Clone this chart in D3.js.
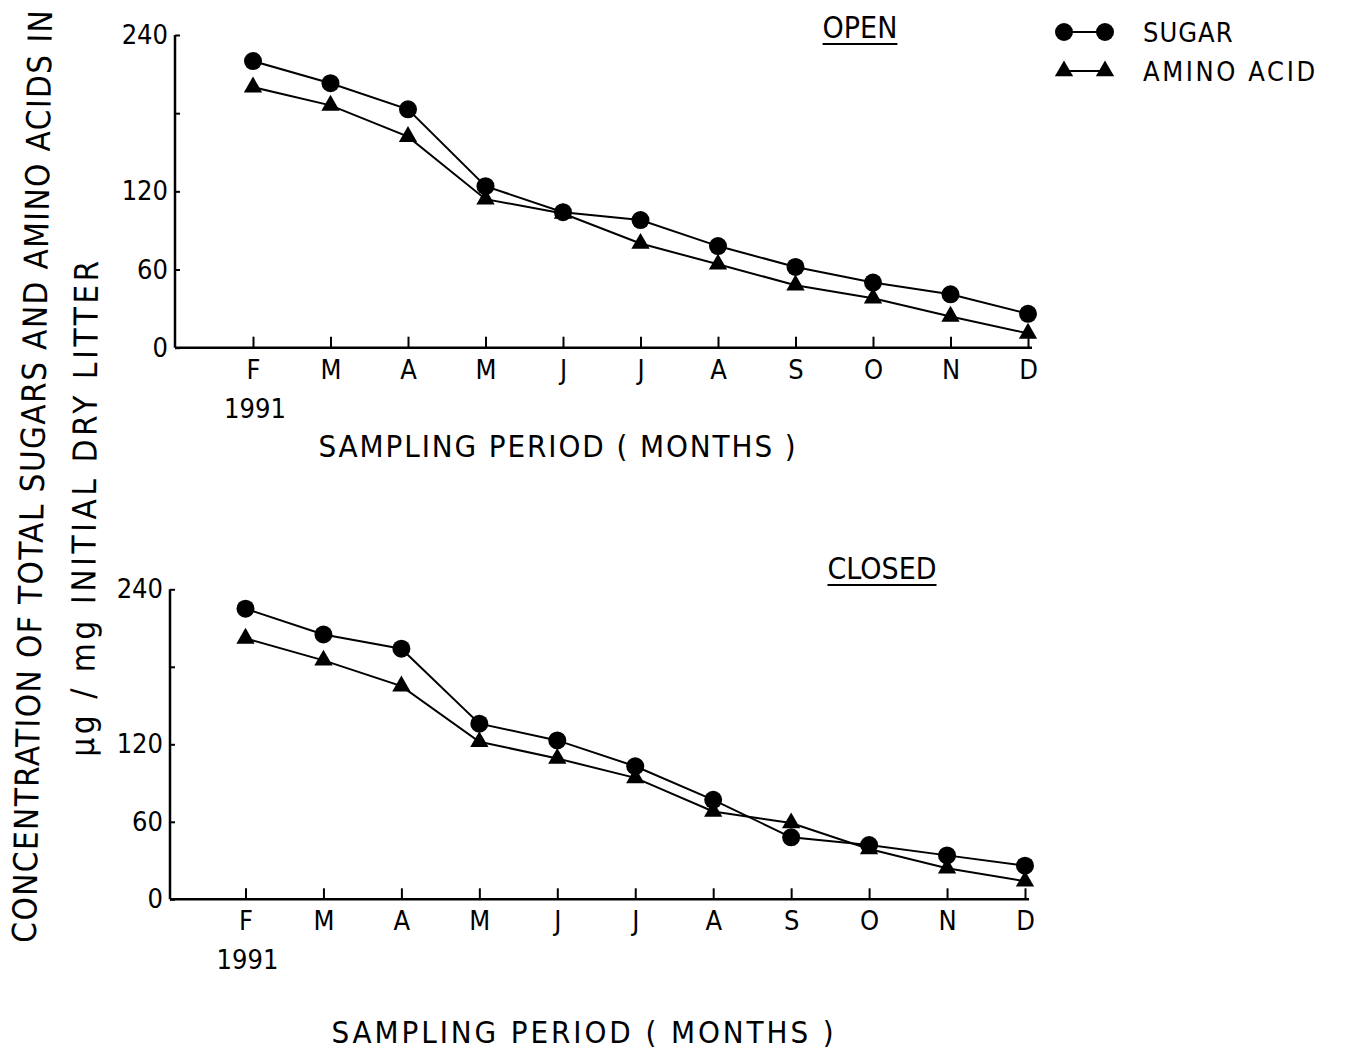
<!DOCTYPE html>
<html>
<head>
<meta charset="utf-8">
<script src="https://cdn.jsdelivr.net/npm/d3@7"></script>
<style>
  body { margin: 0; background: #fff; }
  svg { display: block; }
  text { font-family: "DejaVu Sans Condensed", "Liberation Sans Narrow", "DejaVu Sans", sans-serif; fill: #000; }
  .axis text { font-size: 27px; }
  .axis line { stroke: #000; stroke-width: 2; }
</style>
</head>
<body>
<svg width="1346" height="1056"></svg>
<script>
const months = ["F", "M", "A", "M", "J", "J", "A", "S", "O", "N", "D"];
const yTicks = [0, 60, 120, 180, 240];
const yLabels = [0, 60, 120, 240];

const openSugar   = [220, 203, 183, 124, 104, 98, 78, 62, 50, 41, 26];
const openAmino   = [200, 186, 162, 114, 103, 80, 64, 48, 38, 24, 11];
const closedSugar = [225, 205, 194, 136, 123, 103, 77, 48, 42, 34, 26];
const closedAmino = [202, 185, 165, 122, 109, 94, 68, 59, 39, 24, 14];

const svg = d3.select("svg");

const circle = d3.symbol().type(d3.symbolCircle).size(Math.PI * 9 * 9);
const triangle = d3.symbol().type(d3.symbolTriangle).size(145);

function panel(p) {
    const x = d3.scalePoint()
        .domain(d3.range(months.length))
        .range([p.xF, p.xD]);
    const y = d3.scaleLinear()
        .domain([0, 240])
        .range([p.y0, p.y240]);

    const g = svg.append("g");

    // axis lines
    g.append("line")
        .attr("x1", p.axisX).attr("x2", p.axisX)
        .attr("y1", y(0)).attr("y2", y(240))
        .attr("stroke", "#000").attr("stroke-width", 2.5);
    g.append("line")
        .attr("x1", p.axisX).attr("x2", x(10) + 4)
        .attr("y1", y(0)).attr("y2", y(0))
        .attr("stroke", "#000").attr("stroke-width", 2.5);

    const yAxis = g.append("g")
        .attr("class", "axis")
        .attr("transform", "translate(" + p.axisX + ",0)")
        .call(d3.axisLeft(y)
            .tickValues(yTicks)
            .tickSizeInner(-5)
            .tickSizeOuter(0)
            .tickPadding(7)
            .tickFormat(function(d) { return yLabels.indexOf(d) >= 0 ? d : ""; }));
    yAxis.select(".domain").remove();

    const xAxis = g.append("g")
        .attr("class", "axis")
        .attr("transform", "translate(0," + y(0) + ")")
        .call(d3.axisBottom(x)
            .tickSizeInner(-11)
            .tickSizeOuter(0)
            .tickPadding(12)
            .tickFormat(function(i) { return months[i]; }));
    xAxis.select(".domain").remove();

    g.append("text")
        .attr("x", x(0) + 2).attr("y", y(0) + 70)
        .attr("text-anchor", "middle")
        .attr("font-size", 27)
        .text("1991");

    g.append("text")
        .attr("x", p.titleX).attr("y", p.titleY)
        .attr("text-anchor", "middle")
        .attr("font-size", 31)
        .attr("letter-spacing", p.titleSpacing)
        .text("SAMPLING  PERIOD ( MONTHS )");

    const lbl = g.append("text")
        .attr("x", p.nameX).attr("y", p.nameY)
        .attr("text-anchor", "middle")
        .attr("font-size", 30)
        .text(p.name);
    const bb = lbl.node().getBBox();
    g.append("line")
        .attr("x1", bb.x).attr("x2", bb.x + bb.width)
        .attr("y1", p.nameY + 6).attr("y2", p.nameY + 6)
        .attr("stroke", "#000").attr("stroke-width", 2);

    const line = d3.line()
        .x(function(d, i) { return x(i); })
        .y(function(d) { return y(d); });

    [p.amino, p.sugar].forEach(function(s) {
        g.append("path")
            .datum(s)
            .attr("fill", "none")
            .attr("stroke", "#000")
            .attr("stroke-width", 2)
            .attr("d", line);
    });

    g.selectAll(".sug")
        .data(p.sugar)
        .enter().append("path")
        .attr("transform", function(d, i) { return "translate(" + x(i) + "," + y(d) + ")"; })
        .attr("d", circle);

    g.selectAll(".ami")
        .data(p.amino)
        .enter().append("path")
        .attr("transform", function(d, i) { return "translate(" + x(i) + "," + y(d) + ")"; })
        .attr("d", triangle);
}

panel({
    name: "OPEN", nameX: 860, nameY: 38,
    axisX: 175, y0: 347.7, y240: 35, xF: 253, xD: 1028,
    titleX: 558, titleY: 457, titleSpacing: 1.9,
    sugar: openSugar, amino: openAmino
});

panel({
    name: "CLOSED", nameX: 882, nameY: 579,
    axisX: 170, y0: 899.3, y240: 589.3, xF: 245.5, xD: 1025,
    titleX: 584, titleY: 1043, titleSpacing: 2.9,
    sugar: closedSugar, amino: closedAmino
});

// legend
const legend = svg.append("g");
[["SUGAR", circle, 32, 1], ["AMINO ACID", triangle, 71, 2.6]].forEach(function(l) {
    legend.append("line")
        .attr("x1", 1064).attr("x2", 1105)
        .attr("y1", l[2]).attr("y2", l[2])
        .attr("stroke", "#000").attr("stroke-width", 2);
    [1064, 1105].forEach(function(cx) {
        legend.append("path")
            .attr("transform", "translate(" + cx + "," + l[2] + ")")
            .attr("d", l[1]);
    });
    legend.append("text")
        .attr("x", 1143).attr("y", l[2] + 10)
        .attr("font-size", 27)
        .attr("letter-spacing", l[3])
        .text(l[0]);
});

// y axis title, two lines (the scan is tilted by about a degree)
svg.append("text")
    .attr("transform", "translate(44,476) rotate(-89)")
    .attr("text-anchor", "middle")
    .attr("font-size", 33)
    .attr("letter-spacing", 1.4)
    .text("CONCENTRATION OF TOTAL SUGARS AND AMINO  ACIDS IN");

svg.append("text")
    .attr("transform", "translate(96,507) rotate(-89.5)")
    .attr("text-anchor", "middle")
    .attr("font-size", 33)
    .attr("letter-spacing", 3.6)
    .text("\u00b5g / mg INITIAL DRY LITTER");
</script>
</body>
</html>
